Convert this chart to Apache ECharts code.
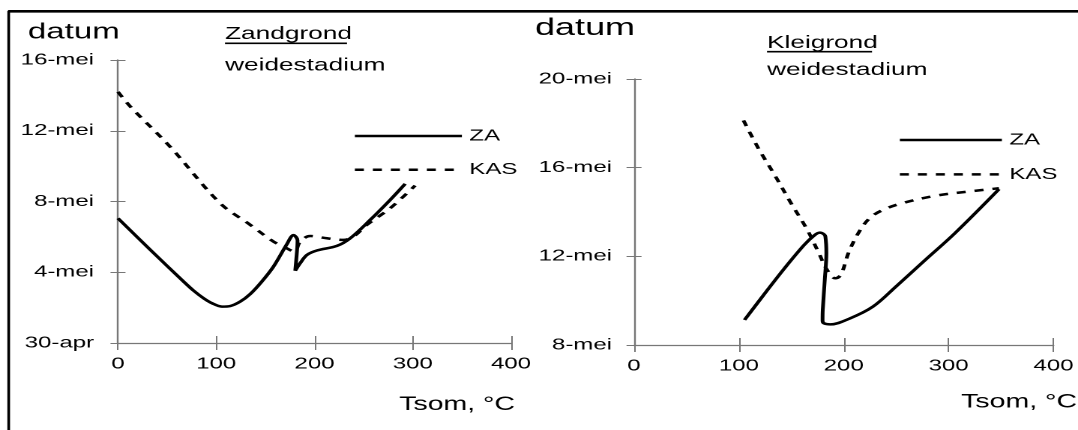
<!DOCTYPE html>
<html lang="nl">
<head>
    <meta charset="UTF-8">
    <title>Zandgrond / Kleigrond - weidestadium</title>
    <style>
        html, body { margin: 0; padding: 0; background: #fff; overflow: hidden; }
        #wrap { width: 1078px; height: 430px; overflow: hidden; }
        /* the original figure is stretched sideways, so draw narrow and stretch */
        #chart { width: 719px; height: 430px; transform: scaleX(1.4993); transform-origin: 0 0; }
    </style>
</head>
<body>
    <div id="wrap"><div id="chart"></div></div>
    <script src="https://cdn.jsdelivr.net/npm/echarts@6.0.0/dist/echarts.min.js"></script>
    <script>
    // x = Tsom (graden C), y = dag in mei (0 = 30-apr)
    var xTicks = [0, 100, 200, 300, 400];
    var zandYLabels = ['30-apr', '4-mei', '8-mei', '12-mei', '16-mei'];
    var kleiYLabels = ['8-mei', '12-mei', '16-mei', '20-mei'];

    var zandZA = [
        [0, 7.05], [33, 5.26], [66.8, 3.47], [76.9, 2.96], [87.1, 2.53], [95.6, 2.25],
        [105.8, 2.06], [114.2, 2.09], [124.4, 2.34], [134.6, 2.77], [146, 3.45],
        [158, 4.3], [172, 5.6], [178.6, 6.1], [182.7, 5.8], [181.4, 4.7],
        [180.4, 4.09], [185.4, 4.51], [192.3, 4.98], [202.4, 5.23], [222.8, 5.49],
        [236.3, 5.92], [256.7, 6.96], [277, 8.09], [292.3, 9.0]
    ];
    var zandKAS = [
        [0, 14.2], [12.5, 13.37], [53, 11.1], [104, 7.9], [134.6, 6.68], [158.3, 5.73],
        [168.5, 5.45], [179.6, 5.17], [185.4, 5.73], [195.6, 6.05], [212.6, 5.92],
        [229.5, 5.83], [239.7, 6.02], [253.3, 6.68], [277, 7.62], [302.4, 8.9]
    ];
    var kleiZA = [
        [105.4, 9.13], [124.8, 10.33], [143.5, 11.46], [162.2, 12.51], [172, 12.95],
        [177.2, 13.07], [181, 13.0], [182.5, 12.89], [183.4, 12.14], [181.9, 10.93],
        [180, 9.6], [179.8, 9.1], [181, 8.98], [187.2, 8.93], [205.9, 9.2], [227.8, 9.73],
        [249.6, 10.63], [277.8, 11.84], [305.9, 13.04], [348, 15.03]
    ];
    var kleiKAS = [
        [104.4, 18.13], [118.5, 16.88], [134.1, 15.67], [149.7, 14.4], [165.3, 13.19],
        [176.3, 12.14], [184.1, 11.39], [191.9, 11.01], [197.2, 11.16], [204.4, 12.14],
        [213.8, 13.04], [224.6, 13.72], [237.2, 14.09], [255.9, 14.4], [287.1, 14.73],
        [318.3, 14.92], [348, 15.07]
    ];

    var SX = 1078 / 719;
    function px(x) { return x / SX; } // screen x -> chart x

    var FONT = '"Liberation Sans", Arial, Helvetica, sans-serif';
    var axisColor = '#777';

    function xAxes(gi) {
        var base = {
            type: 'value', gridIndex: gi, position: 'bottom',
            min: xTicks[0], max: xTicks[xTicks.length - 1], interval: 100,
            splitLine: { show: false }
        };
        return [
            Object.assign({}, base, {
                axisLine: { onZero: false, lineStyle: { color: axisColor, width: 1.2 } },
                axisTick: { length: 7, lineStyle: { color: axisColor } },
                axisLabel: { margin: 13, color: '#000', fontSize: 16, fontFamily: FONT }
            }),
            Object.assign({}, base, {
                axisLine: { show: false, onZero: false },
                axisTick: { inside: true, length: 7, lineStyle: { color: axisColor } },
                axisLabel: { show: false }
            })
        ];
    }

    function yAxes(gi, min, max, labels, margin) {
        var base = {
            type: 'value', gridIndex: gi, position: 'left',
            min: min, max: max, interval: 4,
            splitLine: { show: false }
        };
        return [
            Object.assign({}, base, {
                axisLine: { onZero: false, lineStyle: { color: axisColor, width: 1.2 } },
                axisTick: { length: 5, lineStyle: { color: axisColor } },
                axisLabel: {
                    margin: margin, color: '#000', fontSize: 16, fontFamily: FONT,
                    formatter: function (v) { return labels[Math.round((v - min) / 4)]; }
                }
            }),
            Object.assign({}, base, {
                axisLine: { show: false, onZero: false },
                axisTick: { inside: true, length: 5, lineStyle: { color: axisColor } },
                axisLabel: { show: false }
            })
        ];
    }

    function lineSeries(name, data, xi, yi, dashed) {
        return {
            name: name, type: 'line', xAxisIndex: xi, yAxisIndex: yi,
            data: data, smooth: 0.35, symbol: 'none', showSymbol: false,
            itemStyle: { color: '#000' },
            lineStyle: { color: '#000', width: 2.5, type: dashed ? [6, 6] : 'solid' }
        };
    }

    function txt(x, y, text, size, align) {
        return {
            type: 'text', x: px(x), y: y, silent: true,
            style: {
                text: text, fill: '#000',
                font: size + 'px ' + FONT,
                align: align || 'left', verticalAlign: 'middle'
            }
        };
    }
    function hline(x1, x2, y, w) {
        return { type: 'line', silent: true, shape: { x1: px(x1), y1: y, x2: px(x2), y2: y }, style: { stroke: '#000', lineWidth: w } };
    }

    var legendBase = {
        orient: 'vertical', itemHeight: 14, padding: 0, selectedMode: false,
        data: ['ZA', 'KAS'],
        itemStyle: { opacity: 0 },
        lineStyle: { color: '#000', width: 2.5 },
        textStyle: { fontSize: 16, color: '#000', fontFamily: FONT }
    };

    var myChart = echarts.init(document.getElementById('chart'), null, { devicePixelRatio: 2 });

    var option = {
        animation: false,
        backgroundColor: '#fff',
        grid: [
            { left: px(118), top: 60, width: px(511) - px(118), height: 283 },
            { left: px(634), top: 79, width: px(1060) - px(634), height: 266 }
        ],
        xAxis: xAxes(0).concat(xAxes(1)),
        yAxis: yAxes(0, 0, 16, zandYLabels, px(24)).concat(yAxes(1, 8, 20, kleiYLabels, px(22))),
        legend: [
            Object.assign({}, legendBase, { left: px(353), top: 128, itemWidth: px(460) - px(353), itemGap: 17.7 }),
            Object.assign({}, legendBase, { left: px(898), top: 132, itemWidth: px(1000) - px(898), itemGap: 18.4 })
        ],
        series: [
            lineSeries('ZA', zandZA, 0, 0, false),
            lineSeries('KAS', zandKAS, 0, 0, true),
            lineSeries('ZA', kleiZA, 2, 2, false),
            lineSeries('KAS', kleiKAS, 2, 2, true)
        ],
        graphic: [
            // kader
            hline(8, 1090, 11.3, 2.7),
            { type: 'line', silent: true, shape: { x1: px(8.7), y1: 11, x2: px(8.7), y2: 440 }, style: { stroke: '#000', lineWidth: 1.8 } },
            // links
            txt(28, 32.3, 'datum', 22),
            txt(225, 34, 'Zandgrond', 17.5),
            hline(225, 347, 43.3, 1.6),
            txt(225, 65.7, 'weidestadium', 17.5),
            txt(515, 405, 'Tsom, °C', 19, 'right'),
            // rechts
            txt(535, 28.3, 'datum', 24),
            txt(767, 43.3, 'Kleigrond', 17.5),
            hline(767, 872, 51.7, 1.6),
            txt(767, 70, 'weidestadium', 17.5),
            txt(1077, 402.5, 'Tsom, °C', 19, 'right')
        ]
    };
    myChart.setOption(option, true);
    </script>
</body>
</html>
